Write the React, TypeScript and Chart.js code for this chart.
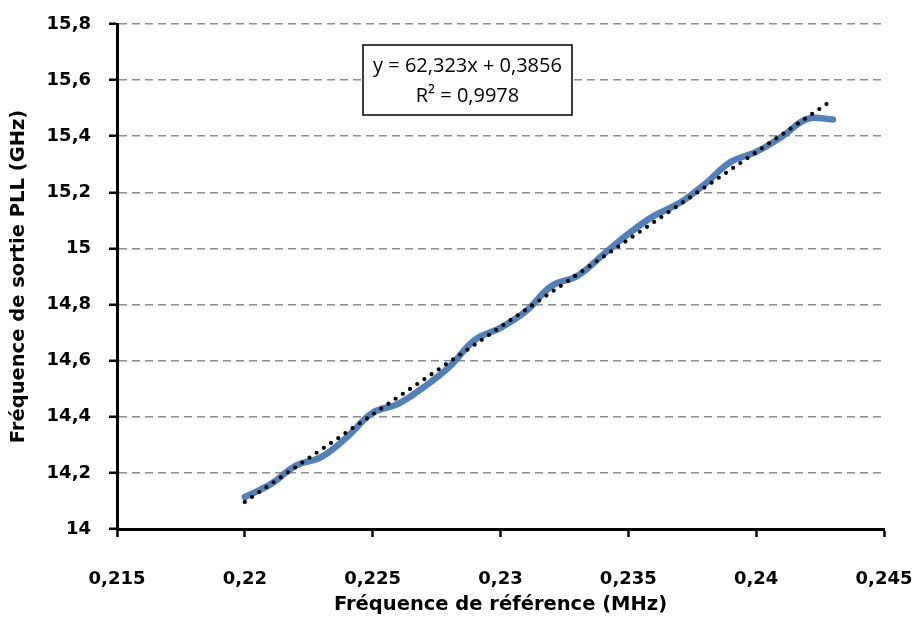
import React, { useEffect, useRef } from "react";
import { Chart, registerables } from "chart.js";

Chart.register(...registerables);

const REF_FREQ = [
  0.22, 0.221, 0.222, 0.223, 0.224, 0.225, 0.226, 0.227, 0.228, 0.229, 0.23, 0.231,
  0.232, 0.233, 0.234, 0.235, 0.236, 0.237, 0.238, 0.239, 0.24, 0.241, 0.242, 0.243,
];
const PLL_FREQ = [
  14.114, 14.159, 14.226, 14.257, 14.328, 14.414, 14.446, 14.506, 14.578, 14.674, 14.717, 14.777,
  14.866, 14.902, 14.977, 15.052, 15.116, 15.162, 15.23, 15.308, 15.344, 15.398, 15.462, 15.46,
];
const TREND_SLOPE = 62.323;
const TREND_INTERCEPT = 0.3856;
const TREND_X = [0.22, 0.2428];
const TREND_LABELS = ["y = 62,323x + 0,3856", "R² = 0,9978"];
const X_TITLE = "Fréquence de référence (MHz)";
const Y_TITLE = "Fréquence de sortie PLL (GHz)";

const AXIS_FONT = "'DejaVu Sans', sans-serif";
const BOX_FONT = "'Open Sans', 'DejaVu Sans', sans-serif";

const fmt = (v: number) => String(parseFloat(Number(v).toFixed(4))).replace(".", ",");

const boxPlugin = {
  id: "trendBox",
  afterDatasetsDraw(chart: any) {
    const ctx = chart.ctx;
    const x = 363, y = 45, w = 209, h = 70;
    ctx.save();
    ctx.fillStyle = "#ffffff";
    ctx.fillRect(x, y, w, h);
    ctx.strokeStyle = "#000000";
    ctx.lineWidth = 1.5;
    ctx.strokeRect(x, y, w, h);
    ctx.fillStyle = "#000000";
    ctx.font = `20px ${BOX_FONT}`;
    ctx.textAlign = "center";
    ctx.textBaseline = "middle";
    ctx.fillText(TREND_LABELS[0], x + w / 2, y + 21);
    ctx.fillText(TREND_LABELS[1], x + w / 2, y + 51);
    ctx.restore();
  },
};

export default function App() {
  const ref = useRef<HTMLCanvasElement>(null);
  useEffect(() => {
    document.body.style.margin = "0";
    const canvas = ref.current!;
    const chart = new Chart(canvas, {
      type: "line",
      data: {
        datasets: [
          {
            label: "Linéaire",
            data: TREND_X.map((x) => ({ x, y: TREND_SLOPE * x + TREND_INTERCEPT })),
            borderColor: "#000000",
            borderWidth: 4.2,
            borderDash: [0, 8.7],
            borderCapStyle: "round",
            pointRadius: 0,
            tension: 0,
            order: 0,
          },
          {
            label: "PLL",
            data: REF_FREQ.map((x, i) => ({ x, y: PLL_FREQ[i] })),
            borderColor: "#4F81BD",
            borderWidth: 6.5,
            borderCapStyle: "round",
            pointRadius: 0,
            tension: 0.4,
            order: 1,
          },
        ],
      },
      options: {
        responsive: false,
        animation: false,
        layout: { padding: { top: 24, right: 34, left: 0, bottom: 0 } },
        plugins: { legend: { display: false }, tooltip: { enabled: false } },
        scales: {
          x: {
            type: "linear",
            min: 0.215,
            max: 0.245,
            afterFit: (s: any) => { s.height = 89; s.paddingLeft = 0; s.paddingRight = 0; },
            ticks: {
              stepSize: 0.005,
              callback: (v: any) => fmt(v),
              font: { family: AXIS_FONT, size: 18, weight: "bold" },
              color: "#000000",
              padding: 32,
              maxRotation: 0,
            },
            grid: { drawOnChartArea: false, drawTicks: true, tickLength: 8, tickColor: "#000000", tickWidth: 2.5 },
            border: { display: true, color: "#000000", width: 3 },
            title: {
              display: true,
              text: X_TITLE,
              font: { family: AXIS_FONT, size: 19.5, weight: "bold" },
              color: "#000000",
              padding: { top: 0, bottom: 1 },
            },
          },
          y: {
            min: 14,
            max: 15.8,
            afterFit: (s: any) => { s.width = 117; s.paddingTop = 0; s.paddingBottom = 0; },
            ticks: {
              stepSize: 0.2,
              callback: (v: any) => fmt(v),
              font: { family: AXIS_FONT, size: 18, weight: "bold" },
              color: "#000000",
              padding: 18,
            },
            grid: {
              color: "#8C8C8C",
              lineWidth: 1.5,
              tickLength: 8,
              tickColor: "#000000",
              tickWidth: 2.5,
            },
            border: { display: true, color: "#000000", width: 3, dash: [8, 5] },
            title: {
              display: true,
              text: Y_TITLE,
              font: { family: AXIS_FONT, size: 19.5, weight: "bold" },
              color: "#000000",
              padding: { top: 7, bottom: 0 },
            },
          },
        },
      },
      plugins: [boxPlugin],
    });
    return () => chart.destroy();
  }, []);
  return (
    <div style={{ width: 918, height: 618 }}>
      <canvas ref={ref} width={918} height={618} />
    </div>
  );
}
